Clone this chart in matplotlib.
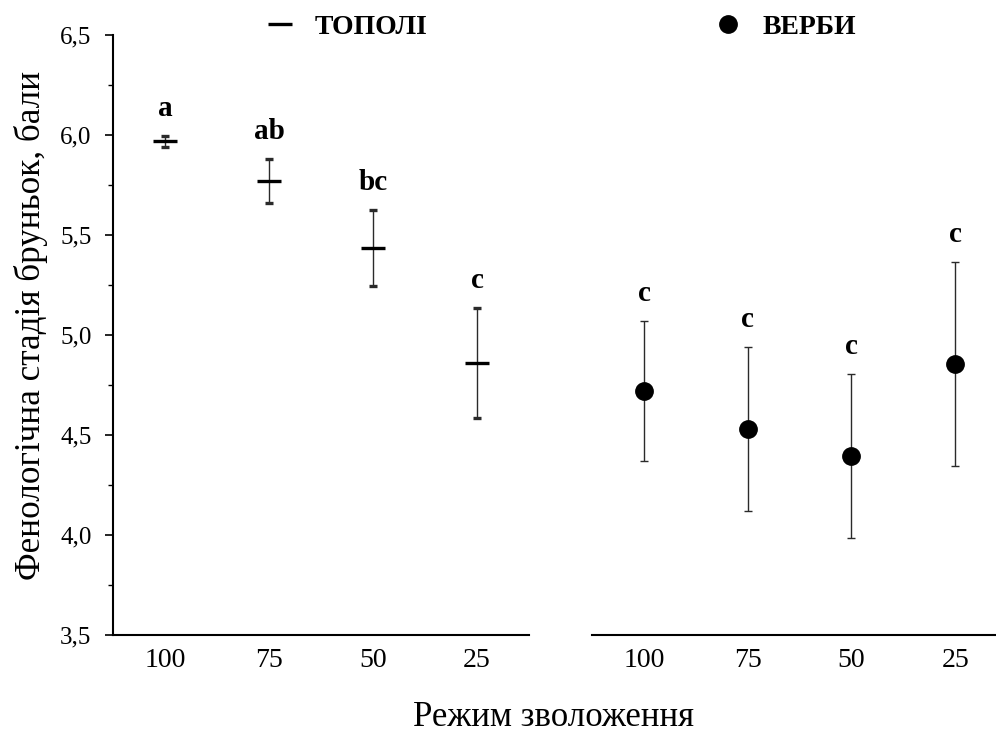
import matplotlib
matplotlib.use("Agg")
import matplotlib.pyplot as plt
from matplotlib.ticker import MultipleLocator
from matplotlib.lines import Line2D

plt.rcParams['font.family'] = ['Liberation Serif', 'DejaVu Serif']

# ---- data ----
regimes = ["100", "75", "50", "25"]
topoli_mean = [5.968, 5.772, 5.437, 4.862]
topoli_err = [0.028, 0.110, 0.190, 0.275]
topoli_letters = ["a", "ab", "bc", "c"]
verbi_mean = [4.722, 4.532, 4.398, 4.855]
verbi_err = [0.350, 0.410, 0.410, 0.510]
verbi_letters = ["c", "c", "c", "c"]
series_names = ["ТОПОЛІ", "ВЕРБИ"]
y_label = "Фенологічна стадія бруньок, бали"
x_label = "Режим зволоження"

W, H = 996, 733
fig = plt.figure(figsize=(W / 100, H / 100), dpi=100)

def fx(p):
    return p / W

def fy(p):
    return 1 - p / H

ax1 = fig.add_axes([fx(113), fy(635.3), fx(529 - 113), (635.3 - 35) / H])
ax2 = fig.add_axes([fx(592.3), fy(635.3), fx(1007 - 592.3), (635.3 - 35) / H])

xpos = list(range(len(regimes)))
errcol = "#2a2a2a"

ax1.errorbar(xpos, topoli_mean, yerr=topoli_err, fmt="_", color="black",
             markersize=17, markeredgewidth=2.4, ecolor=errcol, elinewidth=1.0,
             capsize=2.6, capthick=1.0, zorder=3)
ax2.errorbar(xpos, verbi_mean, yerr=verbi_err, fmt="o", color="black",
             markersize=12.5, ecolor=errcol, elinewidth=1.0,
             capsize=2.6, capthick=1.0, zorder=3)

label_off = 0.10
for ax, means, errs, letters in [(ax1, topoli_mean, topoli_err, topoli_letters),
                                 (ax2, verbi_mean, verbi_err, verbi_letters)]:
    for x, m, e, t in zip(xpos, means, errs, letters):
        ax.text(x, m + e + label_off, t, ha="center", va="baseline",
                fontsize=21, fontweight="bold")

for ax in (ax1, ax2):
    ax.set_xlim(-0.5, 3.5)
    ax.set_ylim(3.5, 6.5)
    ax.set_xticks(xpos)
    ax.set_xticklabels(regimes)
    ax.tick_params(axis="x", length=0, pad=9, labelsize=20)
    ax.spines["top"].set_visible(False)
    ax.spines["right"].set_visible(False)
    ax.spines["bottom"].set_linewidth(1.5)
    ax.spines["left"].set_linewidth(1.5)
    ax.set_facecolor("none")

ax1.yaxis.set_major_locator(MultipleLocator(0.5))
ax1.yaxis.set_minor_locator(MultipleLocator(0.25))
ax1.set_yticklabels([f"{v:.1f}".replace(".", ",") for v in ax1.get_yticks()])
ax1.tick_params(axis="y", which="major", length=5.5, width=1.2, direction="out",
                pad=10, labelsize=18)
ax1.tick_params(axis="y", which="minor", length=3.3, width=1.0, direction="out")

ax2.spines["left"].set_visible(False)
ax2.set_yticks([])
ax2.tick_params(axis="y", which="both", left=False, labelleft=False)

fig.text(fx(31), fy(325), y_label, ha="center", va="center", rotation=90,
         fontsize=25.3)
fig.text(fx(553), fy(726), x_label, ha="center", va="baseline", fontsize=25)

# legend entries at the top
h1 = Line2D([], [], marker="_", linestyle="none", color="black",
            markersize=17, markeredgewidth=2.4)
h2 = Line2D([], [], marker="o", linestyle="none", color="black", markersize=12.5)
for h, name, xl in [(h1, series_names[0], 263), (h2, series_names[1], 711)]:
    fig.legend(handles=[h], labels=[name], loc="center left",
               bbox_to_anchor=(fx(xl), fy(27)), frameon=False,
               borderaxespad=0, borderpad=0,
               prop={"size": 20, "weight": "bold"}, handlelength=1.2,
               handletextpad=0.65)

fig.savefig("out.png", dpi=100)
